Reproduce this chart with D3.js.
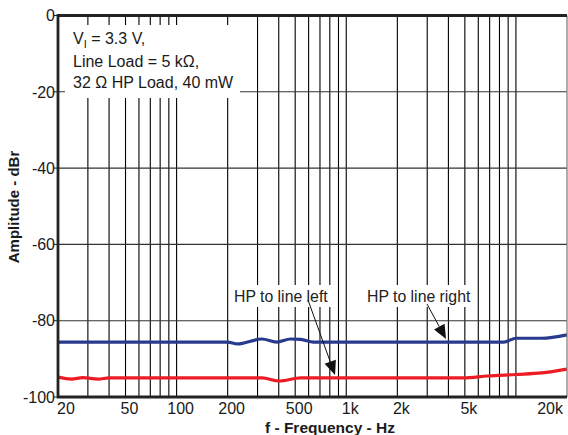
<!DOCTYPE html>
<html><head><meta charset="utf-8">
<script src="https://cdn.jsdelivr.net/npm/d3@7"></script>
<style>html,body{margin:0;padding:0;background:#fff;}svg{display:block;font-family:"Liberation Sans",Arial,sans-serif;}</style>
</head><body>
<svg id="c" width="568" height="435"></svg>
<script>
// Data
const yTicks = [0, -20, -40, -60, -80, -100];
const xTickValues = [20, 50, 100, 200, 500, 1000, 2000, 5000, 20000];
const xTickLabels = ["20", "50", "100", "200", "500", "1k", "2k", "5k", "20k"];
const gridFreqs = [30,40,50,60,70,80,90,100,200,300,400,500,600,700,800,900,1000,2000,3000,4000,5000,6000,7000,8000,9000,10000];
const rightFreq = [20, 200, 228, 318, 389, 470, 540, 640, 8500, 10000, 14200, 20000];
const rightDb   = [-85.6, -85.6, -86.1, -84.8, -85.6, -84.8, -84.9, -85.6, -85.6, -84.6, -84.6, -83.7];
const leftFreq  = [20, 24, 28, 34.5, 40, 320, 400, 540, 4900, 6800, 10000, 14200, 20000];
const leftDb    = [-94.8, -95.3, -94.9, -95.3, -95.0, -95.0, -95.8, -95.0, -95.0, -94.5, -94.1, -93.7, -92.7];

const svg = d3.select("#c");
const L = 58, R = 567, T = 15.5, B = 397;
const x = d3.scaleLog().domain([20, 20000]).range([L, R]);
const y = d3.scaleLinear().domain([-100, 0]).range([B, T]);

svg.append("rect").attr("width",568).attr("height",435).attr("fill","#fff");

// grid
const g = svg.append("g");
g.selectAll(".vg").data(gridFreqs).enter().append("line")
  .attr("x1", d=>x(d)).attr("x2", d=>x(d)).attr("y1", T).attr("y2", B)
  .attr("stroke","#000").attr("stroke-width",1.1);
g.selectAll(".hg").data([-20,-40,-60,-80]).enter().append("line")
  .attr("x1", L).attr("x2", R).attr("y1", d=>y(d)).attr("y2", d=>y(d))
  .attr("stroke","#333").attr("stroke-width",1.1);

// white boxes behind texts
svg.append("rect").attr("x",65).attr("y",25).attr("width",175).attr("height",73).attr("fill","#fff");
svg.append("rect").attr("x",231).attr("y",285).attr("width",106).attr("height",22).attr("fill","#fff");
svg.append("rect").attr("x",364).attr("y",285).attr("width",112).attr("height",22).attr("fill","#fff");

// series
const line = d3.line().x(d=>x(d[0])).y(d=>y(d[1])).curve(d3.curveMonotoneX);
svg.append("path").datum(rightFreq.map((f,i)=>[f,rightDb[i]]))
  .attr("d", line).attr("fill","none").attr("stroke","#283a8e").attr("stroke-width",3.2);
svg.append("path").datum(leftFreq.map((f,i)=>[f,leftDb[i]]))
  .attr("d", line).attr("fill","none").attr("stroke","#ed1c24").attr("stroke-width",3.2);

// frame
svg.append("line").attr("x1",R).attr("x2",R).attr("y1",T).attr("y2",B).attr("stroke","#777").attr("stroke-width",1.2);
svg.append("path").attr("d",`M${R},${T}H${L}V${B}H${R}`).attr("fill","none").attr("stroke","#222").attr("stroke-width",2.8);

// y axis
const ya = svg.append("g");
yTicks.forEach(v=>{
  ya.append("line").attr("x1",54).attr("x2",L).attr("y1",y(v)).attr("y2",y(v)).attr("stroke","#222").attr("stroke-width",1);
  ya.append("text").attr("x",55).attr("y",y(v)).attr("dy","0.36em").attr("text-anchor","end")
    .attr("font-size",16).attr("fill","#1a1a1a").text(v);
});
// x axis labels
xTickValues.forEach((v,i)=>{
  let anchor = "middle", xx = x(v)+4;
  if (i===0){anchor="start"; xx = x(v)-1;}
  if (i===xTickValues.length-1){anchor="end"; xx = x(v)-4;}
  svg.append("text").attr("x",xx).attr("y",414).attr("text-anchor",anchor)
    .attr("font-size",16).attr("fill","#1a1a1a").text(xTickLabels[i]);
});

// axis titles
svg.append("text").attr("x",330).attr("y",433).attr("text-anchor","middle")
  .attr("font-size",15.5).attr("font-weight","bold").attr("fill","#1a1a1a").text("f - Frequency - Hz");
svg.append("text").attr("transform","translate(19,207) rotate(-90)").attr("text-anchor","middle")
  .attr("font-size",15).attr("font-weight","bold").attr("fill","#1a1a1a").text("Amplitude - dBr");

// annotation
const ann = svg.append("text").attr("font-size",16).attr("fill","#1a1a1a");
const t1 = ann.append("tspan").attr("x",73).attr("y",44);
t1.append("tspan").text("V");
t1.append("tspan").attr("font-size",11).attr("dy",4).text("I");
ann.append("tspan").attr("dy",-4).text(" = 3.3 V,");
ann.append("tspan").attr("x",73).attr("y",67).text("Line Load = 5 k\u03A9,");
ann.append("tspan").attr("x",73).attr("y",88).text("32 \u03A9 HP Load, 40 mW");

// labels
svg.append("text").attr("x",234).attr("y",302).attr("font-size",15.8).attr("fill","#222").text("HP to line left");
svg.append("text").attr("x",367).attr("y",302).attr("font-size",15.8).attr("fill","#222").text("HP to line right");

// arrows
function arrow(x1,y1,x2,y2){
  const ang = Math.atan2(y2-y1,x2-x1), len=14, w=6;
  const bx = x2-len*Math.cos(ang), by = y2-len*Math.sin(ang);
  svg.append("line").attr("x1",x1).attr("y1",y1).attr("x2",bx).attr("y2",by).attr("stroke","#111").attr("stroke-width",1);
  const px=-Math.sin(ang)*w, py=Math.cos(ang)*w;
  svg.append("path").attr("d",`M${x2},${y2}L${bx+px},${by+py}L${bx-px},${by-py}Z`).attr("fill","#111");
}
arrow(308,300,335,375);
arrow(427,304,446,339);
</script>
</body></html>
